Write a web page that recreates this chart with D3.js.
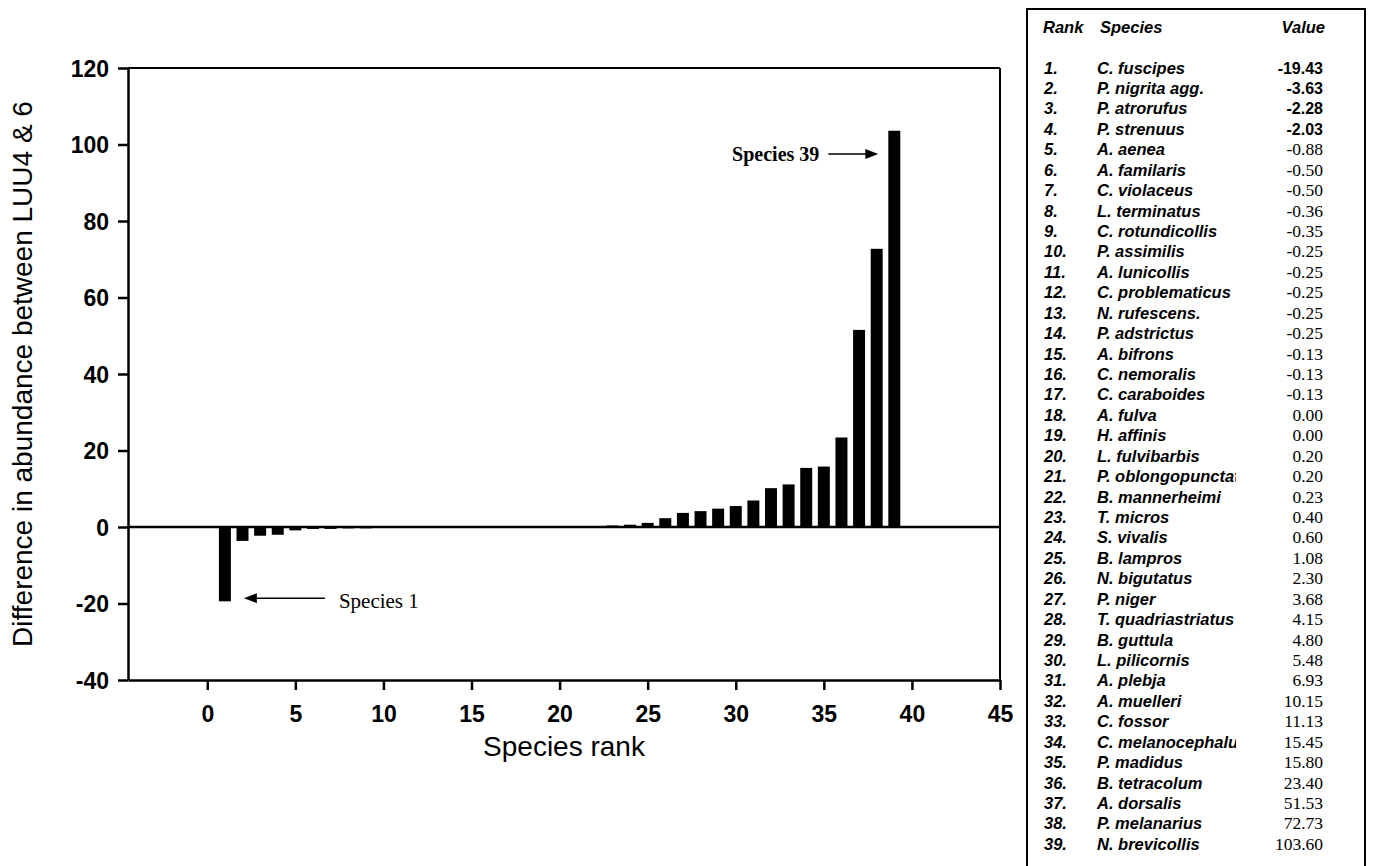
<!DOCTYPE html>
<html>
<head>
<meta charset="utf-8">
<script src="https://cdn.jsdelivr.net/npm/d3@7"></script>
<style>
  html, body { margin: 0; padding: 0; background: #fff; }
  svg { display: block; }
</style>
</head>
<body>
<svg id="chart" width="1373" height="866"></svg>
<script>
// ---------------- data ----------------
const ranks = d3.range(1, 40);
const species = [
  "C. fuscipes", "P. nigrita agg.", "P. atrorufus", "P. strenuus", "A. aenea",
  "A. familaris", "C. violaceus", "L. terminatus", "C. rotundicollis", "P. assimilis",
  "A. lunicollis", "C. problematicus", "N. rufescens.", "P. adstrictus", "A. bifrons",
  "C. nemoralis", "C. caraboides", "A. fulva", "H. affinis", "L. fulvibarbis",
  "P. oblongopunctatus", "B. mannerheimi", "T. micros", "S. vivalis", "B. lampros",
  "N. bigutatus", "P. niger", "T. quadriastriatus", "B. guttula", "L. pilicornis",
  "A. plebja", "A. muelleri", "C. fossor", "C. melanocephalus", "P. madidus",
  "B. tetracolum", "A. dorsalis", "P. melanarius", "N. brevicollis"
];
const values = [
  -19.43, -3.63, -2.28, -2.03, -0.88, -0.50, -0.50, -0.36, -0.35, -0.25,
  -0.25, -0.25, -0.25, -0.25, -0.13, -0.13, -0.13, 0.00, 0.00, 0.20,
  0.20, 0.23, 0.40, 0.60, 1.08, 2.30, 3.68, 4.15, 4.80, 5.48,
  6.93, 10.15, 11.13, 15.45, 15.80, 23.40, 51.53, 72.73, 103.60
];
const yTicks = [-40, -20, 0, 20, 40, 60, 80, 100, 120];
const xTicks = [0, 5, 10, 15, 20, 25, 30, 35, 40, 45];
const xTitle = "Species rank";
const yTitle = "Difference in abundance between LUU4 & 6";
const tableHeader = ["Rank", "Species", "Value"];
const annotations = [
  { rank: 39, label: "Species 39" },
  { rank: 1, label: "Species 1" }
];

// ---------------- layout ----------------
const svg = d3.select("#chart");
const plot = { left: 128, right: 1000, top: 68, bottom: 680 };
const SANS = "'Liberation Sans', Arial, Helvetica, sans-serif";
const SERIF = "'Liberation Serif', 'Times New Roman', serif";

const x = d3.scaleLinear().domain([-4.5, 45]).range([plot.left, plot.right]);
const y = d3.scaleLinear().domain([-40, 120]).range([plot.bottom, plot.top]);
const barW = (x(1) - x(0)) * 0.68;

// frame top & right
svg.append("line").attr("x1", plot.left).attr("x2", plot.right)
  .attr("y1", plot.top).attr("y2", plot.top)
  .attr("stroke", "#000").attr("stroke-width", 2);
svg.append("line").attr("x1", plot.right).attr("x2", plot.right)
  .attr("y1", plot.top).attr("y2", plot.bottom)
  .attr("stroke", "#000").attr("stroke-width", 2);

// bars
svg.append("g").selectAll("rect").data(values).join("rect")
  .attr("x", (d, i) => x(ranks[i]) - barW / 2)
  .attr("width", barW)
  .attr("y", d => y(Math.max(0, d)))
  .attr("height", d => Math.abs(y(d) - y(0)))
  .attr("fill", "#000");

// zero line
svg.append("line").attr("x1", plot.left).attr("x2", plot.right)
  .attr("y1", y(0)).attr("y2", y(0))
  .attr("stroke", "#000").attr("stroke-width", 2.5);

// axes
const yAxis = svg.append("g").attr("transform", `translate(${plot.left},0)`)
  .call(d3.axisLeft(y).tickValues(yTicks).tickFormat(d => String(d))
    .tickSize(10).tickSizeOuter(0).tickPadding(9));
const xAxis = svg.append("g").attr("transform", `translate(0,${plot.bottom})`)
  .call(d3.axisBottom(x).tickValues(xTicks).tickFormat(d => String(d))
    .tickSize(10).tickSizeOuter(0).tickPadding(16));
[yAxis, xAxis].forEach(g => {
  g.select(".domain").attr("stroke", "#000").attr("stroke-width", 2.5);
  g.selectAll(".tick line").attr("stroke", "#000").attr("stroke-width", 2.5);
  g.selectAll(".tick text").attr("fill", "#000")
    .style("font-family", SANS).style("font-size", "23px").style("font-weight", "bold");
});
yAxis.selectAll(".tick text").attr("dy", "0.36em");

// axis titles
svg.append("text").text(xTitle)
  .attr("x", (plot.left + plot.right) / 2).attr("y", 756)
  .attr("text-anchor", "middle")
  .style("font-family", SANS).style("font-size", "28px").attr("fill", "#000");
svg.append("text").text(yTitle)
  .attr("transform", `translate(32,${(plot.top + plot.bottom) / 2}) rotate(-90)`)
  .attr("text-anchor", "middle")
  .style("font-family", SANS).style("font-size", "28px").attr("fill", "#000");

// annotations
const ann = svg.append("g");
// Species 39 (arrow pointing right to the bar)
{
  const a = annotations[0];
  const tipX = x(a.rank) - barW / 2 - 10;
  const ay = y(97.5);
  ann.append("line").attr("x1", tipX - 50).attr("x2", tipX - 10)
    .attr("y1", ay).attr("y2", ay).attr("stroke", "#000").attr("stroke-width", 1.5);
  ann.append("path")
    .attr("d", `M${tipX},${ay} L${tipX - 13},${ay - 5} L${tipX - 13},${ay + 5} Z`)
    .attr("fill", "#000");
  ann.append("text").text(a.label)
    .attr("x", tipX - 59).attr("y", ay + 7).attr("text-anchor", "end")
    .style("font-family", SERIF).style("font-size", "20px").style("font-weight", "bold")
    .attr("fill", "#000");
}
// Species 1 (arrow pointing left to the bar)
{
  const a = annotations[1];
  const tipX = x(a.rank) + barW / 2 + 13;
  const ay = y(-18.6);
  ann.append("line").attr("x1", tipX + 10).attr("x2", tipX + 81)
    .attr("y1", ay).attr("y2", ay).attr("stroke", "#000").attr("stroke-width", 1.5);
  ann.append("path")
    .attr("d", `M${tipX},${ay} L${tipX + 13},${ay - 5} L${tipX + 13},${ay + 5} Z`)
    .attr("fill", "#000");
  ann.append("text").text(a.label)
    .attr("x", tipX + 95).attr("y", ay + 10)
    .style("font-family", SERIF).style("font-size", "21px")
    .attr("fill", "#000");
}

// ---------------- table ----------------
const tbl = { left: 1027, right: 1365, top: 9, bottom: 880 };
const colRank = 1043, colSpecies = 1097, colValue = 1323, clipRight = 1236;
const headerY = 33, row1Y = 73.5, rowH = 20.43;
const rowY = i => row1Y + i * rowH;

svg.append("rect")
  .attr("x", tbl.left).attr("y", tbl.top)
  .attr("width", tbl.right - tbl.left).attr("height", tbl.bottom - tbl.top)
  .attr("fill", "none").attr("stroke", "#000").attr("stroke-width", 2);

svg.append("defs").append("clipPath").attr("id", "spclip")
  .append("rect").attr("x", colSpecies - 5).attr("y", 0)
  .attr("width", clipRight - colSpecies + 5).attr("height", 866);

const italicBold = sel => sel.style("font-family", SANS).style("font-size", "16.5px")
  .style("font-weight", "bold").style("font-style", "italic").attr("fill", "#000");

const th = svg.append("g").call(italicBold);
th.append("text").text(tableHeader[0]).attr("x", colRank).attr("y", headerY);
th.append("text").text(tableHeader[1]).attr("x", colSpecies + 3).attr("y", headerY);
th.append("text").text(tableHeader[2]).attr("x", colValue + 2).attr("y", headerY).attr("text-anchor", "end");

svg.append("g").call(italicBold).selectAll("text").data(ranks).join("text")
  .text(d => d + ".")
  .attr("x", colRank + 1).attr("y", (d, i) => rowY(i));

svg.append("g").attr("clip-path", "url(#spclip)").call(italicBold)
  .selectAll("text").data(species).join("text")
  .text(d => d)
  .attr("x", colSpecies).attr("y", (d, i) => rowY(i));

svg.append("g").selectAll("text").data(values).join("text")
  .text(d => d.toFixed(2))
  .attr("x", colValue).attr("y", (d, i) => rowY(i)).attr("text-anchor", "end")
  .style("font-family", (d, i) => i < 4 ? SANS : SERIF)
  .style("font-size", (d, i) => i < 4 ? "16px" : "17.5px")
  .style("font-weight", (d, i) => i < 4 ? "bold" : "normal")
  .attr("fill", "#000");
</script>
</body>
</html>
